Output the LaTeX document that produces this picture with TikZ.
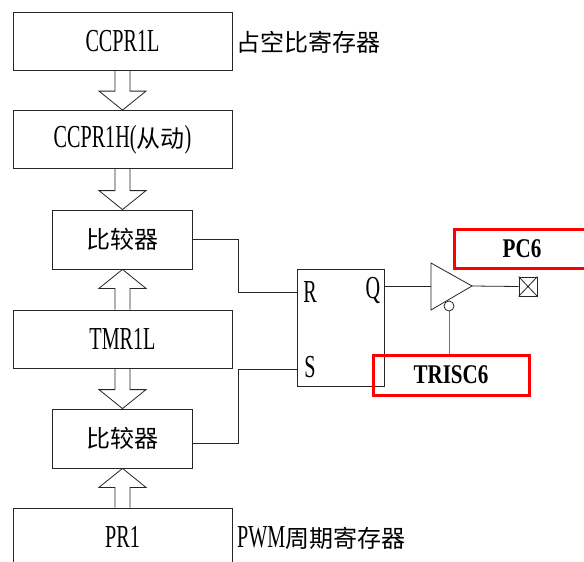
\documentclass[tikz,border=0pt]{standalone}
\usepackage{fontspec}
\setmainfont{Liberation Serif}
\newfontfamily\lat[FakeStretch=0.63]{Liberation Serif}
\newfontfamily\latb[FakeStretch=0.78]{Liberation Serif}
\newfontfamily\cjk{Noto Sans CJK SC}
\usetikzlibrary{calc}
\newcommand\hdown[2]{\draw[hol] let \p1=(#1.south), \p2=(#2.north) in
  (\x1-7.5pt,\y1) -- (\x1-7.5pt,\y2+19pt) -- (\x1-23.5pt,\y2+19pt) -- (\x1,\y2) -- (\x1+23.5pt,\y2+19pt) -- (\x1+7.5pt,\y2+19pt) -- (\x1+7.5pt,\y1);}
\newcommand\hup[2]{\draw[hol] let \p1=(#1.north), \p2=(#2.south) in
  (\x1-7.5pt,\y1) -- (\x1-7.5pt,\y2-19pt) -- (\x1-23.5pt,\y2-19pt) -- (\x1,\y2) -- (\x1+23.5pt,\y2-19pt) -- (\x1+7.5pt,\y2-19pt) -- (\x1+7.5pt,\y1);}
\begin{document}
\begin{tikzpicture}[x=1pt,y=-1pt,
  lfont/.style={font=\lat\fontsize{32}{34}\selectfont},
  cfont/.style={font=\cjk\fontsize{24}{26}\selectfont},
  regbox/.style={draw=black!85, line width=0.8pt, minimum width=219pt, minimum height=58pt, inner sep=0pt, lfont},
  cmpbox/.style={draw=black!85, line width=0.8pt, minimum width=140pt, minimum height=59pt, inner sep=0pt, cfont},
  hol/.style={draw=black!85, line width=0.8pt},
  wire/.style={draw=black!85, line width=0.8pt},
  redbox/.style={draw=red, line width=3pt, inner sep=0pt, font=\latb\bfseries\fontsize{27}{29}\selectfont},
  lbl/.style={inner sep=0pt, anchor=west}]
\clip (0,0) rectangle (584,562);
\fill[white] (0,0) rectangle (584,562);
% register column
\node[regbox] (ccpr1l) at (122.5,41) {CCPR1L};
\node[regbox] (ccpr1h) at (122.5,139.5) {CCPR1H({\cjk\fontsize{24}{26}\selectfont 从动})};
\node[cmpbox] (cmp1) at (122,239.5) {比较器};
\node[regbox] (tmr1l) at (122.5,339) {TMR1L};
\node[cmpbox] (cmp2) at (122,438.5) {比较器};
\node[regbox] (pr1) at (122.5,537) {PR1};
\node[lbl, cfont] (duty) at (236,42) {占空比寄存器};
\node[lbl] (period) at (237,538) {{\lat\fontsize{32}{34}\selectfont PWM}{\cjk\fontsize{24}{26}\selectfont 周期寄存器}};
% hollow arrows
\hdown{ccpr1l}{ccpr1h}
\hdown{ccpr1h}{cmp1}
\hup{tmr1l}{cmp1}
\hdown{tmr1l}{cmp2}
\hup{pr1}{cmp2}
% RS flip-flop
\node[draw=black!85, line width=0.8pt, minimum width=87pt, minimum height=117pt, inner sep=0pt] (rs) at (340.5,327.5) {};
\node[lfont, inner sep=0pt] (rl) at (310,292) {R};
\node[lfont, inner sep=0pt] (sl) at (310,367) {S};
\node[lfont, inner sep=0pt] (ql) at (373,290) {Q};
\coordinate (rin) at (297,292);
\coordinate (sin) at (297,369);
\draw[wire] (cmp1.east) -- ++(46,0) |- (rin);
\draw[wire] ($(cmp2.east)+(0,4.5)$) -- ++(46,0) |- (sin);
% buffer
\coordinate (qout) at (384,286);
\coordinate (bufin) at (431,286);
\coordinate (buftip) at (472,286);
\coordinate (buftop) at (431,263);
\coordinate (bufbot) at (431,310);
\draw[wire] (qout) -- (bufin);
\draw[wire] (buftop) -- (buftip) -- (bufbot) -- cycle;
\node[circle, draw=black!85, line width=0.8pt, minimum size=10pt, inner sep=0pt] (bub) at (449,306) {};
% pin
\node[draw=black!85, line width=0.8pt, minimum width=18pt, minimum height=19pt, inner sep=0pt] (pin) at (528,286.5) {};
\draw[wire] (pin.north west) -- (pin.south east) (pin.north east) -- (pin.south west);
\draw[wire] (buftip) -- (pin.west);
% red labels
\node[redbox, minimum width=136pt, minimum height=39pt] (pc6) at (522,248.5) {PC6};
\node[redbox, minimum width=156pt, minimum height=40pt] (trisc) at (451,375) {TRISC6};
\draw[line width=1pt, draw=black!55] (bub.south) -- (bub.south |- trisc.north);
\end{tikzpicture}
\end{document}
